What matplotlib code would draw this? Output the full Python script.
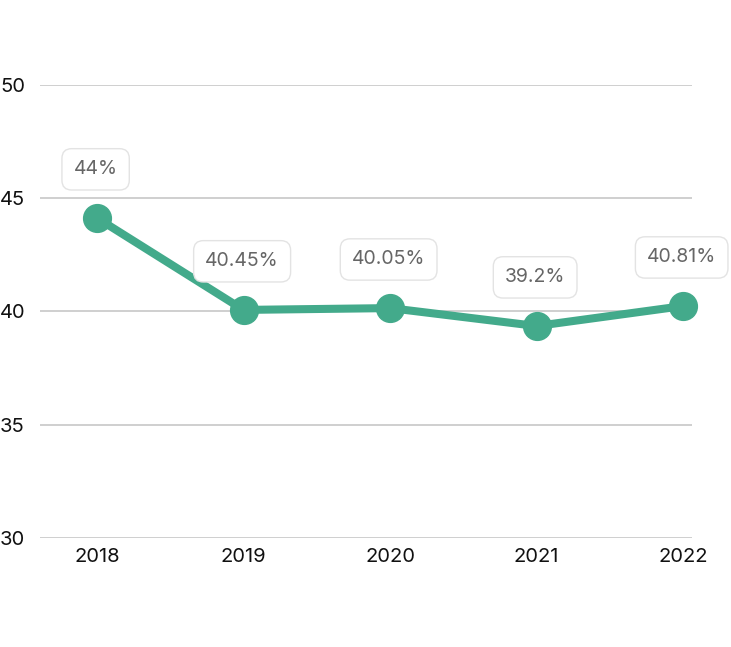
import matplotlib
matplotlib.use("Agg")
import matplotlib.pyplot as plt

years = ["2018", "2019", "2020", "2021", "2022"]
values = [44.13, 40.07, 40.15, 39.36, 40.24]
labels = ["44%", "40.45%", "40.05%", "39.2%", "40.81%"]
yticks = [30, 35, 40, 45, 50]

plt.rcParams['font.family'] = ['Inter', 'DejaVu Sans']

fig = plt.figure(figsize=(7.31, 6.47), dpi=100)
ax = fig.add_axes([40/731, 1-538/647, (692-40)/731, (538-85)/647])

x = list(range(len(years)))
color = "#43AA8B"
ax.plot(x, values, color=color, lw=5.8, marker="o", markersize=20,
        solid_capstyle="round", zorder=3, clip_on=False)

for xi, v, lab in zip(x, values, labels):
    ax.annotate(lab, (xi, v), xytext=(-1, 35), textcoords="offset points",
                ha="center", va="center", fontsize=14, color="#666666",
                bbox=dict(boxstyle="round,pad=0.6,rounding_size=0.5",
                          fc="white", ec="#e3e3e3", lw=1), zorder=4)

ax.set_ylim(30, 50)
ax.set_xlim(-0.389, 4.061)
ax.set_yticks(yticks)
ax.set_xticks(x)
ax.set_xticklabels(years)
ax.yaxis.grid(True, color="#cccccc", lw=1.3)
ax.set_axisbelow(True)
for s in ax.spines.values():
    s.set_visible(False)
ax.tick_params(axis="both", length=0, labelsize=14.5, colors="#111111")
ax.tick_params(axis="x", pad=7)
for t in ax.get_yticklabels():
    t.set_ha("left")
ax.yaxis.set_tick_params(pad=40*0.72)

fig.savefig("out.png", dpi=100)
